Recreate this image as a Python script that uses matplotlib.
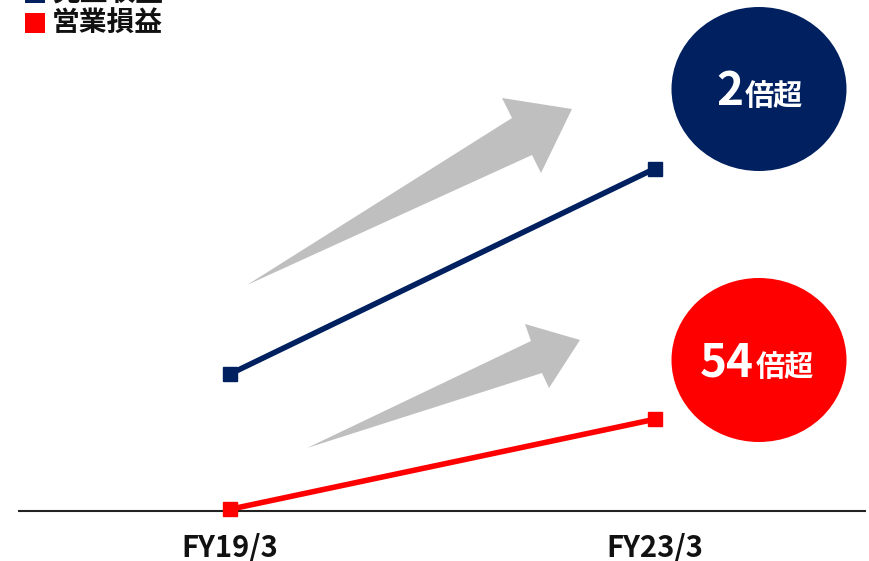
import matplotlib.pyplot as plt
from matplotlib.patches import Polygon, Ellipse

plt.rcParams['font.family'] = ['Noto Sans CJK JP', 'DejaVu Sans']

# data (index scale, FY19/3 revenue = 1.0)
periods = ['FY19/3', 'FY23/3']
revenue = [1.0, 2.5]
op_profit = [0.0125, 0.67]
series_names = ['売上収益', '営業損益']
badges = [('2', '倍超'), ('54', '倍超')]

navy = '#002060'
red = '#FF0000'
gray = '#BFBFBF'

W, H = 870, 561
fig = plt.figure(figsize=(W / 100, H / 100), dpi=100)

# decoration layer in pixel coordinates (y down)
deco = fig.add_axes([0, 0, 1, 1])
deco.set_xlim(0, W)
deco.set_ylim(H, 0)
deco.axis('off')

# big grey arrows
up_arrow = [(247, 285), (512, 118), (502, 98), (572, 109), (541, 173), (532, 155)]
low_arrow = [(307, 448), (531, 341), (525, 324), (580, 340), (549, 388), (542, 373)]
for pts in (up_arrow, low_arrow):
    deco.add_patch(Polygon(pts, closed=True, fc=gray, ec='none', zorder=1))

# badges
for (cy, col), (num, suf), split in zip([(89, navy), (360, red)], badges, [743, 754]):
    deco.add_patch(Ellipse((759, cy), 175, 164, fc=col, ec='none', zorder=1))
    base = cy + 16
    deco.text(split, base, num, ha='right', va='baseline', color='white',
              fontsize=33, fontweight='bold', zorder=3)
    deco.text(split + 2, base, suf, ha='left', va='baseline', color='white',
              fontsize=21, fontweight='bold', zorder=3)

# legend
for i, (name, col) in enumerate(zip(series_names, [navy, red])):
    yc = -7 + 30 * i
    deco.add_patch(plt.Rectangle((25, yc - 10), 20, 20, fc=col, ec='none'))
    deco.text(52, yc + 1, name, ha='left', va='center', fontsize=20,
              fontweight='bold', color='#111111')

# data layer
ax = fig.add_axes([0, 0, 1, 1])
ax.patch.set_alpha(0)
px_x = 425.0
px_y = 137.0
ax.set_xlim(-230 / px_x, (W - 230) / px_x)
ax.set_ylim(-(H - 511) / px_y, 511 / px_y)
ax.axis('off')

x = list(range(len(periods)))
ax.hlines(0, (18 - 230) / px_x, (866 - 230) / px_x, color='#222222', lw=1.5, zorder=2)
ax.plot(x, revenue, color=navy, lw=4, marker='s', ms=10, zorder=4)
ax.plot(x, op_profit, color=red, lw=4, marker='s', ms=10, zorder=4)

for xi, lab in zip(x, periods):
    ax.text(xi, -37 / px_y, lab, ha='center', va='center', fontsize=21,
            fontweight='bold', color='#111111')

fig.savefig('out.png', dpi=100)
